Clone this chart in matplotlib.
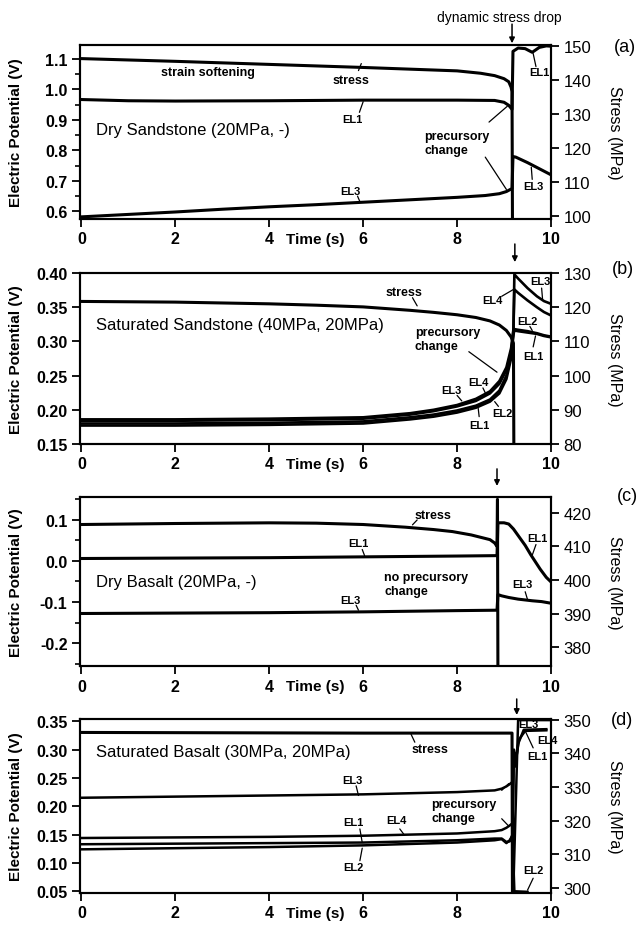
import matplotlib.pyplot as plt
from matplotlib.ticker import MultipleLocator

plt.rcParams['font.family'] = ['Liberation Sans', 'DejaVu Sans']
plt.rcParams['axes.unicode_minus'] = False

# ---------------- (a) Dry Sandstone ----------------
a_stress_t = [0, 2, 4, 6, 7, 8, 8.5, 8.8, 9.0, 9.1, 9.15, 9.17, 9.18]
a_stress = [146.2, 145.4, 144.5, 143.6, 143.1, 142.6, 141.9, 141.2, 140.3, 139.4, 137.8, 136.5, 95]
a_el1_t = [0, 1, 2, 4, 6, 8, 8.8, 9.0, 9.1, 9.17, 9.19, 9.3, 9.45, 9.6, 9.75, 9.9, 10]
a_el1 = [0.967, 0.963, 0.962, 0.963, 0.965, 0.965, 0.964, 0.958, 0.948, 0.935,
         1.125, 1.136, 1.134, 1.122, 1.138, 1.143, 1.142]
a_el3_t = [0, 1, 2, 3, 4, 5, 6, 7, 8, 8.6, 8.9, 9.05, 9.17, 9.19, 9.25, 9.5, 9.75, 10]
a_el3 = [0.582, 0.59, 0.598, 0.607, 0.615, 0.622, 0.63, 0.638, 0.646, 0.652, 0.658, 0.665, 0.675,
         0.78, 0.778, 0.76, 0.74, 0.72]

# ---------------- (b) Saturated Sandstone ----------------
b_stress_t = [0, 2, 4, 5, 6, 6.5, 7, 7.5, 8, 8.4, 8.7, 8.9, 9.05, 9.15, 9.2, 9.21]
b_stress = [121.7, 121.5, 121.0, 120.6, 120.1, 119.6, 119.1, 118.5, 117.8, 117.0, 116.0, 114.8,
            113.2, 111.3, 109.5, 75]
b_pre_t = [0, 2, 4, 6, 7, 7.5, 8, 8.4, 8.7, 8.9, 9.05, 9.15, 9.2]
b_post_t = [9.22, 9.3, 9.5, 9.7, 9.85, 10]
b_el1 = [0.177, 0.177, 0.178, 0.18, 0.186, 0.19, 0.196, 0.203, 0.212, 0.224, 0.245, 0.275, 0.31,
         0.316, 0.315, 0.313, 0.311, 0.308, 0.306]
b_el2 = [0.180, 0.180, 0.181, 0.183, 0.189, 0.193, 0.199, 0.206, 0.215, 0.228, 0.25, 0.28, 0.312,
         0.318, 0.317, 0.315, 0.312, 0.309, 0.307]
b_el3 = [0.184, 0.184, 0.185, 0.187, 0.193, 0.198, 0.205, 0.213, 0.224, 0.238, 0.258, 0.285, 0.315,
         0.398, 0.392, 0.378, 0.366, 0.359, 0.355]
b_el4 = [0.186, 0.186, 0.187, 0.189, 0.195, 0.2, 0.207, 0.216, 0.227, 0.242, 0.262, 0.29, 0.318,
         0.376, 0.371, 0.36, 0.35, 0.343, 0.338]

# ---------------- (c) Dry Basalt ----------------
c_stress_t = [0, 2, 4, 5, 6, 6.9, 7.5, 7.9, 8.3, 8.7, 8.8, 8.85, 8.86, 8.87]
c_stress = [416.5, 416.8, 417.0, 416.9, 416.5, 415.7, 415.0, 414.4, 413.4, 412.0, 411.0, 410.0, 424, 370]
c_el1_t = [0, 2, 4, 6, 8, 8.85, 8.87, 9.0, 9.1, 9.2, 9.3, 9.45, 9.57, 9.77, 9.9, 10]
c_el1 = [0.006, 0.007, 0.008, 0.01, 0.012, 0.013, 0.093, 0.093, 0.09, 0.078, 0.062, 0.038, 0.015,
         -0.02, -0.04, -0.051]
c_el3_t = [0, 2, 4, 6, 8, 8.85, 8.87, 8.95, 9.1, 9.3, 9.6, 9.8, 10]
c_el3 = [-0.128, -0.127, -0.126, -0.124, -0.121, -0.12, -0.082, -0.085, -0.089, -0.093, -0.097,
         -0.099, -0.103]

# ---------------- (d) Saturated Basalt ----------------
d_stress_t = [0, 3, 6, 9.0, 9.17, 9.18]
d_stress = [346.2, 346.1, 346.0, 346.0, 346.0, 290]
d_pre_t = [0, 2, 4, 6, 8, 8.8, 8.95, 9.05, 9.12, 9.18]
d_el1 = [0.133, 0.134, 0.135, 0.136, 0.14, 0.143, 0.143, 0.137, 0.138, 0.15]
d_el2 = [0.124, 0.126, 0.128, 0.131, 0.136, 0.14, 0.142, 0.135, 0.14, 0.148]
d_el3 = [0.215, 0.217, 0.219, 0.221, 0.225, 0.228, 0.231, 0.235, 0.239, 0.243]
d_el4 = [0.144, 0.145, 0.146, 0.148, 0.152, 0.156, 0.158, 0.162, 0.166, 0.17]
d_el1_post_t = [9.21, 9.25, 9.32, 9.45, 9.9]
d_el1_post = [0.3, 0.28, 0.318, 0.333, 0.334]
d_el4_post_t = [9.21, 9.24, 9.3, 9.42, 9.9]
d_el4_post = [0.29, 0.27, 0.31, 0.335, 0.336]
d_el2_post_t = [9.22, 9.5]
d_el2_post = [0.05, 0.049]
d_el3_post_t = [9.2, 9.3, 10]
d_el3_post = [0.06, 0.352, 0.352]

fig = plt.figure(figsize=(6.37, 9.29), dpi=100)


def panel(pos, ylim_l, yticks_l, fmt, ylim_r, yticks_r, minor=None):
    ax = fig.add_axes(pos)
    ax.set_xlim(-0.03, 10)
    ax.set_ylim(*ylim_l)
    ax.set_yticks(yticks_l)
    ax.set_yticklabels([fmt % v for v in yticks_l])
    if minor:
        ax.yaxis.set_minor_locator(MultipleLocator(minor))
    ax.set_xticks(range(0, 11, 2))
    ax.tick_params(axis='both', direction='out', length=6, width=1.3, labelsize=11.5, pad=3)
    ax.tick_params(axis='y', which='minor', direction='out', length=3.5, width=1.2)
    for lab in ax.get_xticklabels() + ax.get_yticklabels():
        lab.set_fontweight('bold')
    ax.set_ylabel('Electric Potential (V)', fontsize=11, fontweight='bold')
    ax.yaxis.set_label_coords(-0.12, 0.5)
    ax.set_xlabel('Time (s)', fontsize=11, fontweight='bold')
    ax.xaxis.set_label_coords(0.5, -0.075)
    ax2 = ax.twinx()
    ax2.set_ylim(*ylim_r)
    ax2.set_yticks(yticks_r)
    ax2.tick_params(axis='y', direction='out', length=6, width=1.3, labelsize=12, pad=3)
    ax2.set_ylabel('Stress (MPa)', fontsize=11.5, rotation=270, va='bottom')
    ax2.yaxis.set_label_coords(1.119, 0.5)
    for sp in list(ax.spines.values()) + list(ax2.spines.values()):
        sp.set_linewidth(1.5)
    return ax, ax2


def pointer(ax, p0, p1):
    ax.annotate('', xy=p1, xytext=p0,
                arrowprops=dict(arrowstyle='-', lw=0.9, color='k', shrinkA=0, shrinkB=0))


def label(ax, x, y, s, size=8, **kw):
    ax.text(x, y, s, fontsize=size, fontweight='bold', ha='center', va='center', **kw)


def drop_arrow(ax, t, y0, y1):
    ax.annotate('', xy=(t, y1), xytext=(t, y0), xycoords=('data', 'axes fraction'),
                textcoords=('data', 'axes fraction'),
                arrowprops=dict(arrowstyle='-|>', lw=1.1, color='k', mutation_scale=8,
                                shrinkA=0, shrinkB=0))


LW = 2.2

# ---- panel (a) ----
ax, ax2 = panel([0.1256, 0.7632, 0.7394, 0.1873], (0.575, 1.146), [0.6, 0.7, 0.8, 0.9, 1.0, 1.1],
                '%.1f', (99.1, 150.2), [100, 110, 120, 130, 140, 150], minor=0.05)
ax2.plot(a_stress_t, a_stress, 'k-', lw=LW)
ax.plot(a_el1_t, a_el1, 'k-', lw=LW)
ax.plot(a_el3_t, a_el3, 'k-', lw=LW)
ax.text(0.3, 0.87, 'Dry Sandstone (20MPa, -)', fontsize=12, va='center')
label(ax, 2.7, 1.057, 'strain softening', size=9)
label(ax, 5.73, 1.03, 'stress', size=9)
pointer(ax, (5.9, 1.062), (5.96, 1.085))
label(ax, 5.76, 0.903, 'EL1')
pointer(ax, (5.92, 0.925), (6.0, 0.96))
label(ax, 5.72, 0.668, 'EL3')
pointer(ax, (5.88, 0.65), (5.93, 0.632))
ax.text(7.3, 0.824, 'precursory\nchange', fontsize=9, fontweight='bold', va='center', linespacing=1.2)
pointer(ax, (8.68, 0.893), (9.07, 0.945))
pointer(ax, (8.6, 0.778), (9.05, 0.672))
label(ax, 9.75, 1.057, 'EL1')
pointer(ax, (9.68, 1.075), (9.62, 1.118))
label(ax, 9.62, 0.682, 'EL3')
pointer(ax, (9.6, 0.705), (9.58, 0.745))
ax.text(8.9, 1.16, 'dynamic stress drop', transform=ax.get_xaxis_transform(), fontsize=10,
        ha='center', va='center')
drop_arrow(ax, 9.17, 1.12, 1.01)
fig.text(625 / 637, 1 - 48 / 929, '(a)', fontsize=13, ha='center', va='center')

# ---- panel (b) ----
ax, ax2 = panel([0.1256, 0.521, 0.7394, 0.184], (0.15, 0.40), [0.15, 0.20, 0.25, 0.30, 0.35, 0.40],
                '%.2f', (80, 130), [80, 90, 100, 110, 120, 130])
ax2.plot(b_stress_t, b_stress, 'k-', lw=LW)
b_t = b_pre_t + b_post_t
for series in (b_el1, b_el2, b_el3, b_el4):
    ax.plot(b_t, series, 'k-', lw=1.9)
ax.text(0.3, 0.325, 'Saturated Sandstone (40MPa, 20MPa)', fontsize=12, va='center')
label(ax, 6.86, 0.372, 'stress', size=9)
pointer(ax, (7.05, 0.364), (7.15, 0.352))
ax.text(7.1, 0.304, 'precursory\nchange', fontsize=9, fontweight='bold', va='center', linespacing=1.2)
pointer(ax, (8.25, 0.285), (8.85, 0.255))
label(ax, 7.87, 0.229, 'EL3')
pointer(ax, (8.0, 0.221), (8.1, 0.213))
label(ax, 8.45, 0.24, 'EL4')
pointer(ax, (8.55, 0.232), (8.62, 0.222))
label(ax, 8.48, 0.178, 'EL1')
pointer(ax, (8.47, 0.19), (8.45, 0.202))
label(ax, 8.97, 0.196, 'EL2')
pointer(ax, (8.88, 0.205), (8.8, 0.212))
label(ax, 9.78, 0.388, 'EL3')
pointer(ax, (9.8, 0.378), (9.82, 0.362))
label(ax, 8.75, 0.36, 'EL4')
pointer(ax, (8.95, 0.366), (9.2, 0.376))
label(ax, 9.5, 0.33, 'EL2')
pointer(ax, (9.55, 0.322), (9.6, 0.316))
label(ax, 9.62, 0.278, 'EL1')
pointer(ax, (9.62, 0.292), (9.67, 0.308))
drop_arrow(ax, 9.23, 1.17, 1.064)
fig.text(623 / 637, 1 - 270 / 929, '(b)', fontsize=13, ha='center', va='center')

# ---- panel (c) ----
ax, ax2 = panel([0.1256, 0.282, 0.7394, 0.182], (-0.256, 0.156), [-0.2, -0.1, 0.0, 0.1],
                '%.1f', (374.4, 424.7), [380, 390, 400, 410, 420], minor=0.05)
ax2.plot(c_stress_t, c_stress, 'k-', lw=LW)
ax.plot(c_el1_t, c_el1, 'k-', lw=LW)
ax.plot(c_el3_t, c_el3, 'k-', lw=LW)
ax.text(0.3, -0.05, 'Dry Basalt (20MPa, -)', fontsize=12, va='center')
label(ax, 7.49, 0.112, 'stress', size=9)
pointer(ax, (7.15, 0.1), (7.05, 0.088))
label(ax, 5.89, 0.043, 'EL1')
pointer(ax, (5.98, 0.028), (6.03, 0.013))
ax.text(6.45, -0.056, 'no precursory\nchange', fontsize=9, fontweight='bold', va='center', linespacing=1.2)
label(ax, 5.72, -0.096, 'EL3')
pointer(ax, (5.85, -0.108), (5.9, -0.12))
label(ax, 9.72, 0.055, 'EL1')
pointer(ax, (9.68, 0.04), (9.6, 0.014))
label(ax, 9.4, -0.056, 'EL3')
pointer(ax, (9.45, -0.075), (9.5, -0.094))
drop_arrow(ax, 8.85, 1.166, 1.065)
fig.text(627 / 637, 1 - 497 / 929, '(c)', fontsize=13, ha='center', va='center')

# ---- panel (d) ----
ax, ax2 = panel([0.1256, 0.0377, 0.7394, 0.1873], (0.047, 0.354),
                [0.05, 0.10, 0.15, 0.20, 0.25, 0.30, 0.35], '%.2f',
                (298.5, 350.2), [300, 310, 320, 330, 340, 350])
ax2.plot(d_stress_t, d_stress, 'k-', lw=LW)
ax.plot(d_pre_t + d_el1_post_t, d_el1 + d_el1_post, 'k-', lw=1.8)
ax.plot(d_pre_t + d_el4_post_t, d_el4 + d_el4_post, 'k-', lw=1.8)
ax.plot(d_pre_t + d_el2_post_t, d_el2 + d_el2_post, 'k-', lw=1.8)
ax.plot(d_pre_t + d_el3_post_t, d_el3 + d_el3_post, 'k-', lw=1.8)
ax.text(0.3, 0.296, 'Saturated Basalt (30MPa, 20MPa)', fontsize=12, va='center')
label(ax, 7.42, 0.301, 'stress', size=9)
pointer(ax, (7.1, 0.313), (7.02, 0.327))
label(ax, 5.76, 0.246, 'EL3')
pointer(ax, (5.85, 0.236), (5.9, 0.219))
ax.text(7.45, 0.192, 'precursory\nchange', fontsize=9, fontweight='bold', va='center', linespacing=1.2)
pointer(ax, (8.95, 0.228), (9.1, 0.24))
pointer(ax, (8.95, 0.178), (9.1, 0.165))
label(ax, 5.8, 0.172, 'EL1')
pointer(ax, (5.93, 0.16), (5.98, 0.136))
label(ax, 6.7, 0.175, 'EL4')
pointer(ax, (6.78, 0.16), (6.88, 0.149))
label(ax, 5.8, 0.092, 'EL2')
pointer(ax, (5.93, 0.104), (5.98, 0.126))
label(ax, 9.52, 0.346, 'EL3')
label(ax, 9.92, 0.317, 'EL4')
label(ax, 9.7, 0.288, 'EL1')
pointer(ax, (9.62, 0.303), (9.45, 0.333))
label(ax, 9.62, 0.088, 'EL2')
pointer(ax, (9.62, 0.073), (9.5, 0.052))
drop_arrow(ax, 9.27, 1.115, 1.023)
fig.text(622 / 637, 1 - 721 / 929, '(d)', fontsize=13, ha='center', va='center')

fig.savefig('out.png', dpi=100)
